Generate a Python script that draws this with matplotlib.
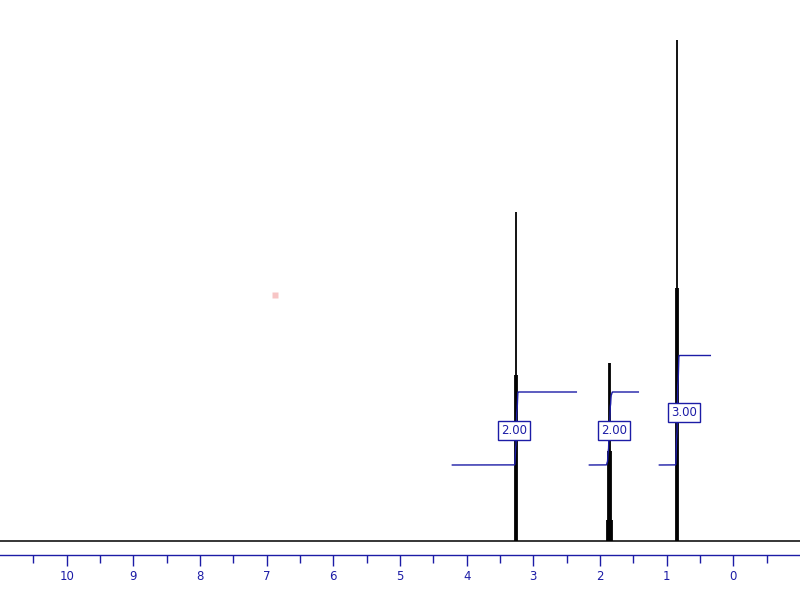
import numpy as np
import matplotlib
matplotlib.use("Agg")
import matplotlib.pyplot as plt

# ---- data (ppm, intensity in arbitrary units) ----
peak_ppm = [3.272, 3.255, 3.238,
            1.8975, 1.8825, 1.8675, 1.8525, 1.8375, 1.8225,
            0.857, 0.840, 0.823]
peak_height = [166, 329, 166,
               21, 90, 178, 178, 90, 21,
               253, 501, 253]
peak_group = [0, 0, 0, 1, 1, 1, 1, 1, 1, 2, 2, 2]

integral_values = [2.00, 2.00, 3.00]
integral_start = [4.215, 2.16, 1.11]   # left end (ppm)
integral_end = [2.355, 1.425, 0.345]   # right end (ppm)
integral_label_ppm = [3.285, 1.785, 0.735]
integral_labels = ["2.00", "2.00", "3.00"]

tick_major = list(range(0, 11))
tick_minor = [x + 0.5 for x in range(-1, 11)]

impurity_ppm = [6.87]
impurity_height = [246]

# ---- styling ----
blue = "#1c1ca6"
int_base = 76
units_per_H = 36.5

fig = plt.figure(figsize=(8, 6), dpi=100)
ax = fig.add_axes([0, 0, 1, 1])
ax.set_xlim(11, -1)
ax.set_ylim(-59, 541)
ax.axis("off")

# baseline
ax.axhline(0, color="black", lw=1.1)

# spectrum lines
ax.vlines(peak_ppm, 0, peak_height, color="black", lw=1.3)

# impurity dot
ax.plot(impurity_ppm, impurity_height, "s", color="#f6b7b7", ms=4, mec="none", alpha=0.8)

# integrals
pk = np.array(peak_ppm)
ph = np.array(peak_height, dtype=float)
pg = np.array(peak_group)
w = 0.004
for g in range(3):
    xs = np.linspace(integral_start[g], integral_end[g], 3000)
    sel = pg == g
    hh = ph[sel]
    cum = np.zeros_like(xs)
    for p, h in zip(pk[sel], hh):
        cum += h * 0.5 * (1 + np.tanh((p - xs) / w))
    cum /= hh.sum()
    ys = int_base + integral_values[g] * units_per_H * cum
    ax.plot(xs, ys, color=blue, lw=1.0)
    ymid = int_base + integral_values[g] * units_per_H / 2 - 2
    ax.text(integral_label_ppm[g], ymid, integral_labels[g], ha="center", va="center",
            fontsize=8.5, color=blue,
            bbox=dict(boxstyle="square,pad=0.25", fc="white", ec=blue, lw=1.0))

# ppm axis
axis_y = -14
ax.axhline(axis_y, color=blue, lw=1.0)
ax.vlines(tick_major, axis_y - 11, axis_y, color=blue, lw=1.0)
ax.vlines(tick_minor, axis_y - 8, axis_y, color=blue, lw=1.0)
for t in tick_major:
    ax.text(t, axis_y - 21, str(t), ha="center", va="center", fontsize=8.5, color=blue)

fig.savefig("out.png", dpi=100)
